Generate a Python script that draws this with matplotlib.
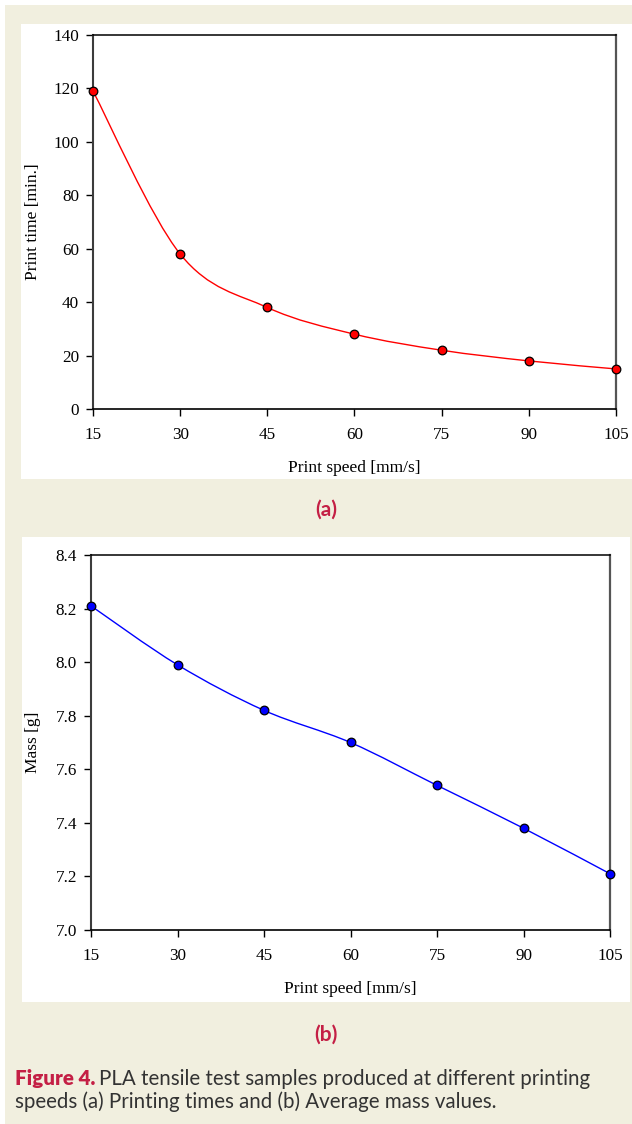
import matplotlib
matplotlib.use("Agg")
import matplotlib.pyplot as plt
import numpy as np
from matplotlib.patches import Rectangle, PathPatch
from matplotlib.path import Path

# ---- data ----
speed = [15, 30, 45, 60, 75, 90, 105]
print_time = [119, 58, 38, 28, 22, 18, 15]
mass = [8.21, 7.99, 7.82, 7.70, 7.54, 7.38, 7.21]
xticks = [15, 30, 45, 60, 75, 90, 105]
yticks_a = [0, 20, 40, 60, 80, 100, 120, 140]
yticks_b = [7.0, 7.2, 7.4, 7.6, 7.8, 8.0, 8.2, 8.4]

W, H = 632, 1124
BEIGE = "#f1efdf"
CRIMSON = "#c41f45"
SERIF = "Liberation Serif"
SANS = "Lato"

fig = plt.figure(figsize=(W / 100, H / 100), dpi=100)
fig.patch.set_facecolor("white")


def px_rect(x0, y0, x1, y1, color):
    fig.patches.append(Rectangle((x0 / W, 1 - y1 / H), (x1 - x0) / W, (y1 - y0) / H,
                                 transform=fig.transFigure, facecolor=color,
                                 edgecolor="none", zorder=-10))


px_rect(5, 5, 632, 1124, BEIGE)
px_rect(21, 24, 632, 479, "white")
px_rect(22, 537, 630, 1002, "white")


def smooth_path(xs, ys):
    pts = np.column_stack([xs, ys]).astype(float)
    n = len(pts)
    verts = [pts[0]]
    codes = [Path.MOVETO]
    for i in range(n - 1):
        p0 = pts[max(i - 1, 0)]
        p1 = pts[i]
        p2 = pts[i + 1]
        p3 = pts[min(i + 2, n - 1)]
        c1 = p1 + (p2 - p0) / 6.0
        c2 = p2 - (p3 - p1) / 6.0
        verts += [c1, c2, p2]
        codes += [Path.CURVE4] * 3
    return Path(verts, codes)


def make_axes(box, xs, ys, color, yticks, ylim, ylabel, fmt):
    l, t, r, b = box
    ax = fig.add_axes([l / W, 1 - b / H, (r - l) / W, (b - t) / H])
    ax.set_facecolor("white")
    ax.add_patch(PathPatch(smooth_path(xs, ys), facecolor="none", edgecolor=color,
                           lw=1.0, clip_on=False, zorder=2))
    ax.plot(xs, ys, linestyle="none", marker="o", markersize=6.2,
            markerfacecolor=color, markeredgecolor="black", markeredgewidth=0.9,
            clip_on=False, zorder=3)
    ax.set_xlim(15, 105)
    ax.set_ylim(*ylim)
    ax.set_xticks(xticks)
    ax.set_yticks(yticks)
    ax.set_yticklabels([fmt.format(v) for v in yticks])
    ax.tick_params(direction="out", length=5, width=1.0, color="black",
                   labelsize=12.3, labelcolor="black")
    ax.tick_params(axis="x", pad=8)
    ax.tick_params(axis="y", pad=5)
    for lab in ax.get_xticklabels() + ax.get_yticklabels():
        lab.set_fontfamily(SERIF)
    ax.spines["left"].set_color("#3c3c3c")
    ax.spines["left"].set_linewidth(1.5)
    ax.spines["right"].set_color("#555555")
    ax.spines["right"].set_linewidth(1.6)
    ax.spines["top"].set_color("black")
    ax.spines["top"].set_linewidth(1.1)
    ax.spines["bottom"].set_color("black")
    ax.spines["bottom"].set_linewidth(1.2)
    ax.set_xlabel("Print speed [mm/s]", fontfamily=SERIF, fontsize=12.5, labelpad=12)
    ax.set_ylabel(ylabel, fontfamily=SERIF, fontsize=12.5)
    return ax


ax_a = make_axes((93, 35, 616, 409), speed, print_time, "#ff0000", yticks_a, (0, 140),
                 "Print time [min.]", "{:d}")
ax_a.yaxis.set_label_coords(-(93 - 41) / 523, 0.5)
ax_b = make_axes((91, 555, 610, 930), speed, mass, "#0000ff", yticks_b, (7.0, 8.4),
                 "Mass [g]", "{:.1f}")
ax_b.yaxis.set_label_coords(-(91 - 41) / 519, 0.5)

fig.text(326 / W, 1 - 510 / H, "(a)", color=CRIMSON, fontsize=15, fontweight="bold",
         fontfamily=SANS, ha="center", va="center")
fig.text(326 / W, 1 - 1035 / H, "(b)", color=CRIMSON, fontsize=15, fontweight="bold",
         fontfamily=SANS, ha="center", va="center")

cap_x = 15 / W
FS = 14.8
t1 = fig.text(cap_x, 1 - 1085 / H, "Figure 4.", color=CRIMSON, fontsize=FS,
              fontweight="heavy", fontfamily=SANS, ha="left", va="baseline")
fig.canvas.draw()
bb = t1.get_window_extent()
fig.text((bb.x1 + 4) / W, 1 - 1085 / H,
         "PLA tensile test samples produced at different printing",
         color="#333333", fontsize=FS, fontfamily=SANS, ha="left", va="baseline")
fig.text(cap_x, 1 - 1108 / H, "speeds (a) Printing times and (b) Average mass values.",
         color="#333333", fontsize=FS, fontfamily=SANS, ha="left", va="baseline")

fig.savefig("out.png", dpi=100, facecolor=fig.get_facecolor())
